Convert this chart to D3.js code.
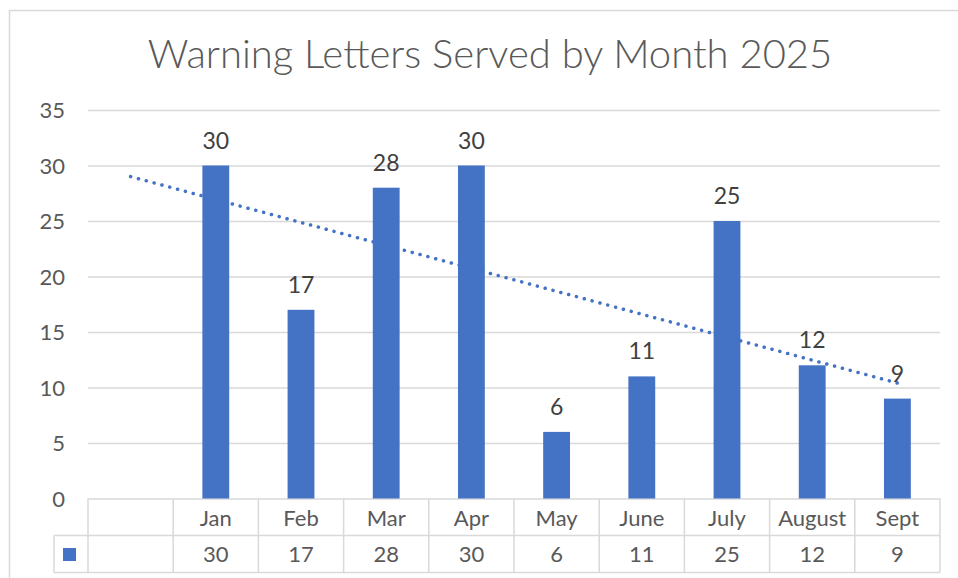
<!DOCTYPE html>
<html>
<head>
<meta charset="utf-8">
<script src="https://cdn.jsdelivr.net/npm/d3@7/dist/d3.min.js"></script>
<style>
  html, body { margin: 0; padding: 0; background: #fff; }
  svg { display: block; font-family: "Lato", "DejaVu Sans", sans-serif; }
</style>
</head>
<body>
<svg id="chart" width="958" height="578"></svg>
<script>
// ---- data ----
const title = "Warning Letters Served by Month 2025";
const categories = ["", "Jan", "Feb", "Mar", "Apr", "May", "June", "July", "August", "Sept"];
const values = [null, 30, 17, 28, 30, 6, 11, 25, 12, 9];
const yTicks = [0, 5, 10, 15, 20, 25, 30, 35];

// ---- styles ----
const BLUE = "#4472C4";
const GRID = "#d9d9d9";
const TEXT = "#595959";
const LABEL = "#404040";
const FONT = "Lato, 'DejaVu Sans', sans-serif";

const svg = d3.select("#chart");

// chart border (left + top)
svg.append("path")
  .attr("d", "M9.5,578 L9.5,10.5 L958,10.5")
  .attr("fill", "none").attr("stroke", GRID).attr("stroke-width", 1.5);

// title
svg.append("text")
  .attr("x", 490).attr("y", 68)
  .attr("text-anchor", "middle")
  .attr("font-size", 40)
  .attr("font-weight", 300)
  .attr("fill", TEXT)
  .text(title);

const pLeft = 88, pRight = 940, pTop = 110, pBottom = 498.5;
const x = d3.scaleBand().domain(categories).range([pLeft, pRight]).padding(0);
const y = d3.scaleLinear().domain([0, 35]).range([pBottom, pTop]);

// gridlines + y labels via axis
const yAxis = svg.append("g")
  .attr("transform", `translate(${pLeft},0)`)
  .call(d3.axisLeft(y).tickValues(yTicks).tickSize(-(pRight - pLeft)).tickPadding(23));
yAxis.select(".domain").remove();
yAxis.selectAll(".tick line").attr("stroke", GRID).attr("stroke-width", 1.5);
yAxis.selectAll(".tick text")
  .attr("fill", TEXT).attr("font-size", 22).attr("font-family", FONT)
  .attr("dy", "0.35em");

// bars
const bw = x.bandwidth() * 0.315;
const data = categories.map((c, i) => ({ c, v: values[i], i }));
const valid = data.filter(d => d.v !== null);

svg.append("g").selectAll("rect").data(valid).join("rect")
  .attr("x", d => x(d.c) + x.bandwidth() / 2 - bw / 2)
  .attr("width", bw)
  .attr("y", d => y(d.v))
  .attr("height", d => y(0) - y(d.v))
  .attr("fill", BLUE);

// linear trendline (least squares over category index), drawn across full category range
const mx = d3.mean(valid, d => d.i + 1), my = d3.mean(valid, d => d.v);
const sxy = d3.sum(valid, d => (d.i + 1 - mx) * (d.v - my));
const sxx = d3.sum(valid, d => (d.i + 1 - mx) ** 2);
const slope = sxy / sxx, intercept = my - slope * mx;
const t0 = 1, t1 = categories.length;
const cx = i => x(categories[i - 1]) + x.bandwidth() / 2;
svg.append("line")
  .attr("x1", cx(t0)).attr("y1", y(intercept + slope * t0))
  .attr("x2", cx(t1)).attr("y2", y(intercept + slope * t1))
  .attr("stroke", BLUE).attr("stroke-width", 3.5)
  .attr("stroke-linecap", "round")
  .attr("stroke-dasharray", "0.1 8");

// data labels
svg.append("g").selectAll("text").data(valid).join("text")
  .attr("x", d => x(d.c) + x.bandwidth() / 2)
  .attr("y", d => y(d.v) - 17)
  .attr("text-anchor", "middle")
  .attr("font-size", 23)
  .attr("fill", LABEL)
  .text(d => d.v);

// data table
const r1 = pBottom, r2 = 535.5, r3 = 572.5, keyLeft = 54;
const tbl = svg.append("g").attr("stroke", GRID).attr("stroke-width", 1.5).attr("fill", "none");
tbl.append("line").attr("x1", keyLeft).attr("x2", pRight).attr("y1", r2).attr("y2", r2);
tbl.append("line").attr("x1", keyLeft).attr("x2", pRight).attr("y1", r3).attr("y2", r3);
tbl.append("line").attr("x1", keyLeft).attr("x2", keyLeft).attr("y1", r2).attr("y2", r3);
const bounds = categories.map(c => x(c)).concat([pRight]);
tbl.selectAll("line.v").data(bounds).join("line").attr("class", "v")
  .attr("x1", d => d).attr("x2", d => d).attr("y1", r1).attr("y2", r3);

// category axis row
const xAxis = svg.append("g")
  .attr("transform", `translate(0,${r1})`)
  .call(d3.axisBottom(x).tickSize(0).tickPadding(0));
xAxis.select(".domain").remove();
xAxis.selectAll(".tick text")
  .attr("y", 27).attr("dy", 0)
  .attr("fill", TEXT).attr("font-size", 22).attr("font-family", FONT);

// values row
svg.append("g").selectAll("text").data(valid).join("text")
  .attr("x", d => x(d.c) + x.bandwidth() / 2)
  .attr("y", 562)
  .attr("text-anchor", "middle")
  .attr("font-size", 22)
  .attr("fill", TEXT)
  .text(d => d.v);

// legend key
svg.append("rect").attr("x", 63).attr("y", 548).attr("width", 13).attr("height", 13).attr("fill", BLUE);
</script>
</body>
</html>
